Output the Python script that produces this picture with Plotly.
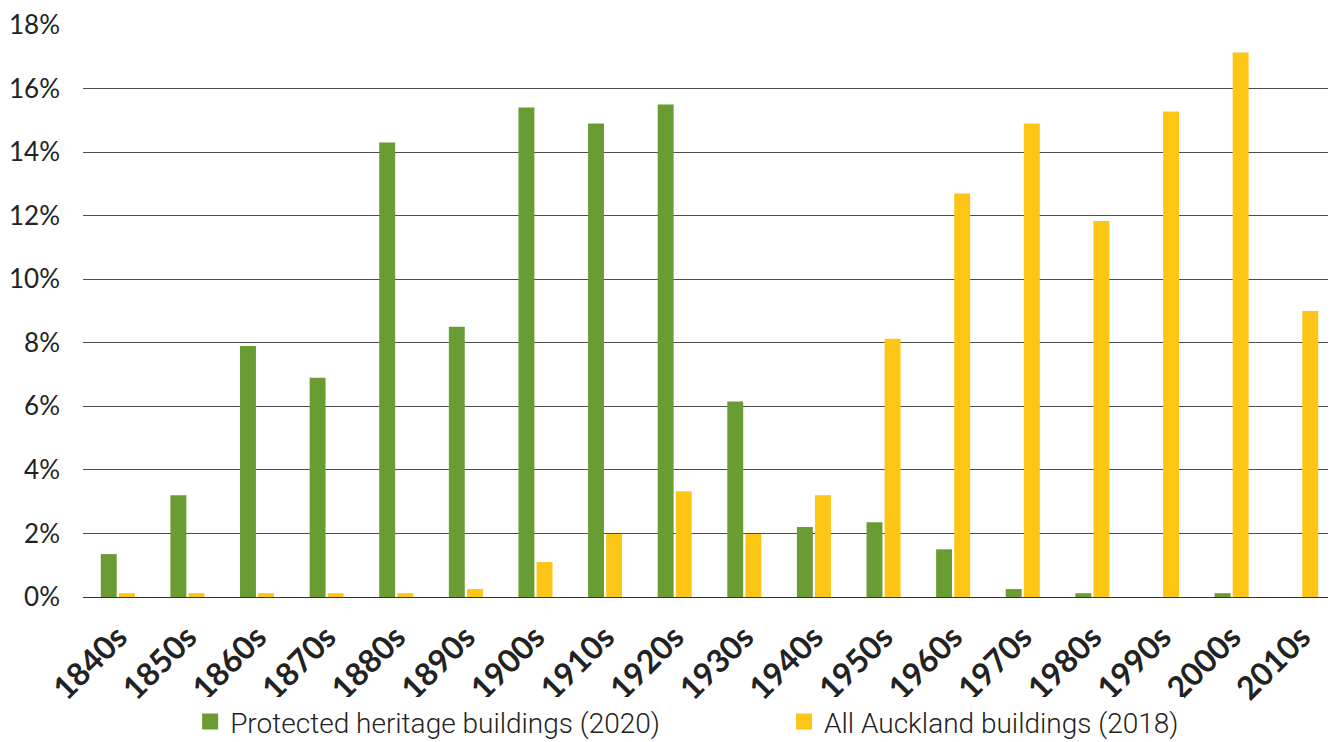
import plotly.graph_objects as go

# Data (percent of buildings by decade)
decades = ["1840s", "1850s", "1860s", "1870s", "1880s", "1890s", "1900s", "1910s", "1920s",
           "1930s", "1940s", "1950s", "1960s", "1970s", "1980s", "1990s", "2000s", "2010s"]
heritage = [1.35, 3.2, 7.9, 6.9, 14.3, 8.5, 15.4, 14.9, 15.5,
            6.15, 2.2, 2.35, 1.5, 0.25, 0.12, 0, 0.12, 0]
auckland = [0.12, 0.12, 0.12, 0.12, 0.12, 0.25, 1.1, 1.98, 3.33,
            1.98, 3.2, 8.13, 12.7, 14.9, 11.83, 15.28, 17.13, 9.0]

green = "#699C33"
yellow = "#FDC516"

fig = go.Figure()
fig.add_trace(go.Bar(x=decades, y=heritage, name="Protected heritage buildings (2020)",
                     marker_color=green, marker_line_width=0, showlegend=False))
fig.add_trace(go.Bar(x=decades, y=auckland, name="All Auckland buildings (2018)",
                     marker_color=yellow, marker_line_width=0, showlegend=False))

# legend entries with bigger square symbols, one legend each so they can be placed apart
fig.add_trace(go.Scatter(x=[None], y=[None], mode="markers", name="Protected heritage buildings (2020)",
                         marker=dict(symbol="square", size=20, color=green), legend="legend"))
fig.add_trace(go.Scatter(x=[None], y=[None], mode="markers", name="All Auckland buildings (2018)",
                         marker=dict(symbol="square", size=20, color=yellow), legend="legend2"))

# page body has an 8px margin, so the figure is 8px smaller and margins shifted
leg_font = dict(family="Roboto", size=28, color="#222", weight=300)
fig.update_layout(
    width=1328, height=734,
    margin=dict(l=75, r=0, t=16, b=145, autoexpand=False),
    paper_bgcolor="white", plot_bgcolor="white",
    barmode="group", bargap=0.48, bargroupgap=0.12,
    font=dict(family="Lato", color="#222"),
    legend=dict(orientation="h", x=0.0855, xanchor="left", y=-0.218, yanchor="middle", font=leg_font),
    legend2=dict(orientation="h", x=0.5595, xanchor="left", y=-0.218, yanchor="middle", font=leg_font),
)
fig.update_xaxes(tickangle=-45, tickfont=dict(family="Lato", size=32, weight="bold", color="#222"),
                 showgrid=False, ticks="", showline=False, automargin=False, ticklabelstandoff=14)
fig.update_yaxes(range=[0, 18.03], dtick=2, ticksuffix="%", showgrid=True, gridcolor="#4d4d4d",
                 gridwidth=1, zeroline=True, zerolinecolor="#333", zerolinewidth=1, automargin=False,
                 tickfont=dict(family="Lato", size=26, color="#222"), ticks="", ticklabelstandoff=22)

fig.write_html("out.html")
